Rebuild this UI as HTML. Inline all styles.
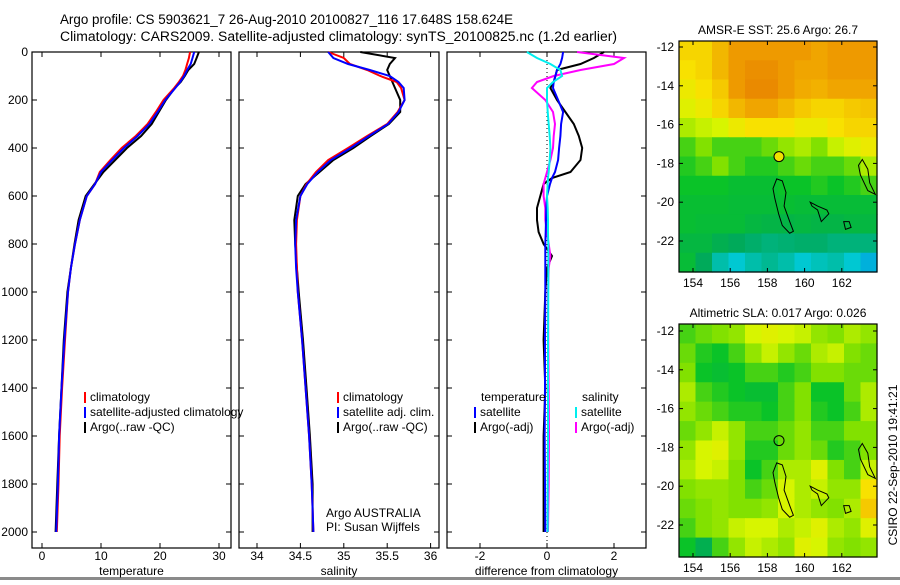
<!DOCTYPE html>
<html><head><meta charset="utf-8">
<style>
html,body{margin:0;padding:0;background:#fff;}
body{width:900px;height:580px;overflow:hidden;position:relative;font-family:"Liberation Sans",sans-serif;}
svg text{font-family:"Liberation Sans",sans-serif;font-size:12px;fill:#000;}
</style></head>
<body>
<svg id="fig" width="900" height="580" viewBox="0 0 900 580" xmlns="http://www.w3.org/2000/svg">
<text x="60" y="24" style="font-size:13.5px" textLength="453" lengthAdjust="spacingAndGlyphs">Argo profile: CS 5903621_7 26-Aug-2010 20100827_116 17.648S 158.624E</text>
<text x="60" y="41" style="font-size:13.5px" textLength="557" lengthAdjust="spacingAndGlyphs">Climatology: CARS2009. Satellite-adjusted climatology: synTS_20100825.nc (1.2d earlier)</text>
<rect x="0" y="577" width="900" height="3" fill="#8a8a8a"/>
</svg>
<script>
// ---------- data ----------
const depths = [0,25,50,75,100,125,150,200,250,300,350,400,450,500,550,600,700,800,900,1000,1200,1400,1600,1800,2000];
const tempClim = [25.1,24.9,24.6,24.3,23.9,23.2,22.4,20.6,19.3,17.9,15.9,13.5,11.6,9.8,9.0,7.6,6.4,5.6,4.9,4.4,3.9,3.4,3.0,2.8,2.5];
const tempSat  = [25.8,25.5,25.2,24.6,24.1,23.4,22.6,20.9,19.6,18.2,16.2,13.9,11.9,10.0,9.0,7.6,6.4,5.6,4.9,4.4,3.8,3.3,2.9,2.7,2.4];
const tempArgo = [26.6,26.2,25.8,24.8,24.2,23.5,22.5,21.0,19.8,18.6,16.8,14.4,12.4,10.4,8.9,7.4,6.2,5.5,4.9,4.3,3.7,3.3,2.9,2.6,2.3];
const salClim = [34.82,35.00,35.07,35.27,35.42,35.61,35.66,35.70,35.62,35.50,35.27,35.05,34.82,34.68,34.57,34.50,34.46,34.45,34.46,34.47,34.52,34.56,34.60,34.63,34.65];
const salSat  = [34.82,34.88,35.05,35.30,35.53,35.63,35.69,35.70,35.63,35.51,35.29,35.08,34.85,34.70,34.58,34.50,34.45,34.44,34.45,34.47,34.52,34.56,34.60,34.63,34.65];
const salArgo = [35.19,35.59,35.53,35.50,35.53,35.56,35.59,35.65,35.65,35.52,35.31,35.11,34.88,34.72,34.56,34.47,34.43,34.44,34.46,34.48,34.53,34.57,34.61,34.64,34.64];

const diffDepths = [0,25,50,75,100,125,150,200,250,300,350,400,450,500,525,550,600,650,700,750,800,850,900,1000,1200,1400,1600,1800,2000];
const dTempArgo = [1.7,1.4,1.0,0.3,0.25,0.2,0.1,0.3,0.55,0.8,0.95,1.05,1.0,0.7,0.15,-0.1,-0.2,-0.3,-0.3,-0.25,-0.1,0.15,0,-0.05,-0.1,-0.05,-0.1,-0.1,-0.1];
const dTempSat  = [0.48,0.45,0.4,0.3,0.25,0.2,0.18,0.33,0.48,0.42,0.4,0.36,0.33,0.24,0.15,0.09,0,-0.02,-0.03,-0.04,-0.05,-0.05,-0.05,-0.05,-0.06,-0.06,-0.07,-0.06,-0.05];
const dSalSat   = [-0.6,-0.3,0.1,0.4,0.45,0.18,0,0,0.02,0.05,0.08,0.1,0.08,0.05,0.03,0.02,0,0.02,0.03,0.03,0.04,0.04,0.04,0.04,0.03,0.03,0.03,0.02,0.02];
const dSalArgo  = [0.9,2.3,2.0,1.0,0.2,-0.3,-0.45,-0.05,0.18,0.24,0.2,0.18,0.1,0,-0.05,-0.1,-0.1,-0.05,-0.05,0,0.05,0.1,0.05,0.03,0.04,0.05,0.06,0.05,0.03];

const depthTicks = [0,200,400,600,800,1000,1200,1400,1600,1800,2000];
const tempTicks = [0,10,20,30];
const salTicks = [34,34.5,35,35.5,36];
const diffTicks = [-2,0,2];

const sstGrid = [
[.80,.80,.85,.90,.90,.90,.90,.90,.88,.90,.90,.90],
[.78,.80,.85,.90,.92,.92,.90,.88,.88,.90,.90,.90],
[.75,.78,.82,.90,.93,.93,.90,.87,.86,.88,.88,.88],
[.72,.75,.80,.85,.88,.88,.85,.82,.80,.80,.82,.83],
[.65,.68,.70,.75,.78,.78,.78,.75,.75,.78,.80,.80],
[.55,.60,.55,.55,.55,.58,.62,.65,.60,.68,.72,.75],
[.52,.55,.60,.55,.52,.52,.55,.58,.55,.55,.58,.65],
[.50,.50,.50,.48,.48,.48,.50,.50,.52,.50,.52,.55],
[.48,.48,.48,.47,.47,.47,.48,.47,.47,.47,.47,.47],
[.48,.47,.47,.47,.45,.44,.44,.45,.44,.44,.45,.45],
[.45,.45,.42,.40,.38,.36,.37,.38,.38,.36,.36,.36],
[.47,.40,.30,.25,.30,.33,.30,.25,.28,.30,.25,.20]];
const slaGrid = [
[.55,.58,.60,.62,.70,.72,.70,.68,.62,.60,.65,.62],
[.58,.52,.50,.55,.62,.68,.62,.58,.65,.68,.60,.58],
[.60,.50,.48,.50,.55,.55,.52,.55,.60,.60,.58,.58],
[.65,.55,.52,.50,.48,.48,.55,.60,.50,.50,.58,.65],
[.62,.58,.55,.52,.52,.50,.55,.60,.52,.50,.55,.65],
[.58,.62,.68,.62,.55,.55,.58,.62,.55,.55,.60,.60],
[.62,.70,.72,.62,.52,.52,.58,.62,.58,.52,.55,.60],
[.65,.70,.68,.60,.50,.55,.65,.65,.72,.60,.55,.68],
[.60,.62,.62,.60,.55,.58,.70,.65,.68,.62,.62,.78],
[.58,.60,.62,.60,.60,.62,.70,.65,.62,.60,.65,.82],
[.55,.60,.62,.68,.70,.70,.65,.68,.72,.65,.62,.72],
[.50,.42,.55,.62,.68,.65,.62,.72,.70,.62,.60,.62]];
const lonTicks = [154,156,158,160,162];
const latTicks = [-12,-14,-16,-18,-20,-22];
const argoLon = 158.624, argoLat = -17.648;
const reefA = [[158.5,-18.8],[158.8,-18.9],[159.0,-19.5],[158.9,-20.2],[159.2,-21.0],[159.4,-21.5],[159.2,-21.6],[158.8,-21.2],[158.6,-20.6],[158.4,-19.8],[158.3,-19.3]];
const reefB = [[160.3,-20.0],[160.7,-20.2],[161.2,-20.4],[161.3,-20.6],[160.9,-21.0],[160.7,-20.4],[160.4,-20.2]];
const reefC = [[163.1,-17.8],[163.4,-18.3],[163.5,-19.0],[163.8,-19.6],[163.4,-19.4],[163.0,-18.6],[162.9,-18.1]];
const reefD = [[162.1,-21.0],[162.4,-21.0],[162.5,-21.3],[162.2,-21.4]];
</script>
<script>
const NS = "http://www.w3.org/2000/svg";
const svg = document.getElementById('fig');
function mk(tag, attrs, parent){const e=document.createElementNS(NS,tag);for(const k in attrs)e.setAttribute(k,attrs[k]);(parent||svg).appendChild(e);return e;}
const Y0=52, YS=0.24;
function yD(d){return Y0+YS*d;}

function panel(name, x0, x1, xf, ticks, tickFmt, xlabel, showY){
  const g=mk('g',{});
  
  
  const fr=mk('rect',{x:x0,y:Y0,width:x1-x0,height:548-Y0,fill:'none',stroke:'#000','stroke-width':1.2},g);
  
  
  depthTicks.forEach(d=>{
    mk('line',{x1:x0,x2:x0+5,y1:yD(d),y2:yD(d),stroke:'#000'},g);
    mk('line',{x1:x1-5,x2:x1,y1:yD(d),y2:yD(d),stroke:'#000'},g);
    if(showY){const t=mk('text',{x:x0-4,y:yD(d)+4,'text-anchor':'end'},g);t.textContent=d;
      
      }
  });
  ticks.forEach(v=>{
    const x=xf(v);
    mk('line',{x1:x,x2:x,y1:548,y2:543,stroke:'#000'},g);
    mk('line',{x1:x,x2:x,y1:Y0,y2:Y0+5,stroke:'#000'},g);
    const t=mk('text',{x:x,y:560,'text-anchor':'middle'},g);t.textContent=tickFmt(v);
    
    
  });
  const xl=mk('text',{x:(x0+x1)/2,y:575,'text-anchor':'middle'},g);xl.textContent=xlabel;
  
  
  return g;
}
function line(g, xs, ds, xf, color, name, w){
  const pts=xs.map((v,i)=>xf(v).toFixed(1)+','+yD(ds[i]).toFixed(1)).join(' ');
  const p=mk('polyline',{points:pts,fill:'none',stroke:color,'stroke-width':w||2},g);
  
  
}
function legend(g, x, y, color, label, name){
  mk('rect',{x:x,y:y-9,width:2,height:11,fill:color},g);
  if(label){const t=mk('text',{x:x+6,y:y},g);t.textContent=label;}
  
  
}

const xT=v=>42+5.9*v;
const p1=panel('temperature-panel',32,231,xT,tempTicks,v=>v,'temperature',true);
line(p1,tempArgo,depths,xT,'#000','argo-temperature-line');
line(p1,tempClim,depths,xT,'#f00','climatology-temperature-line');
line(p1,tempSat,depths,xT,'#00f','satellite-temperature-line');
legend(p1,84,401,'#f00','climatology','legend-climatology');
legend(p1,84,416,'#00f','satellite-adjusted climatology','legend-satellite-adjusted');
legend(p1,84,431,'#000','Argo(..raw -QC)','legend-argo');

const xS=v=>257+86.8*(v-34);
const p2=panel('salinity-panel',239,439,xS,salTicks,v=>v,'salinity',false);
line(p2,salArgo,depths,xS,'#000','argo-salinity-line');
line(p2,salClim,depths,xS,'#f00','climatology-salinity-line');
line(p2,salSat,depths,xS,'#00f','satellite-salinity-line');
legend(p2,337,401,'#f00','climatology','legend-climatology-sal');
legend(p2,337,416,'#00f','satellite adj. clim.','legend-satellite-sal');
legend(p2,337,431,'#000','Argo(..raw -QC)','legend-argo-sal');
const a1=mk('text',{x:326,y:517},p2);a1.textContent='Argo AUSTRALIA';


const a2=mk('text',{x:326,y:531},p2);a2.textContent='PI: Susan Wijffels';



const xDf=v=>547+33.5*v;
const p3=panel('difference-panel',447,646,xDf,diffTicks,v=>v,'difference from climatology',false);
mk('line',{x1:xDf(0),x2:xDf(0),y1:Y0,y2:548,stroke:'#000','stroke-dasharray':'1,3'},p3);
line(p3,dTempArgo,diffDepths,xDf,'#000','argo-temperature-diff-line');
line(p3,dSalArgo,diffDepths,xDf,'#f0f','argo-salinity-diff-line');
line(p3,dTempSat,diffDepths,xDf,'#00f','satellite-temperature-diff-line');
line(p3,dSalSat,diffDepths,xDf,'#0ee','satellite-salinity-diff-line');
const h1=mk('text',{x:481,y:401},p3);h1.textContent='temperature';


const h2=mk('text',{x:582,y:401},p3);h2.textContent='salinity';


legend(p3,474,416,'#00f','satellite','legend-temp-satellite');
legend(p3,474,431,'#000','Argo(-adj)','legend-temp-argo');
legend(p3,575,416,'#0ee','satellite','legend-sal-satellite');
legend(p3,575,431,'#f0f','Argo(-adj)','legend-sal-argo');

const stops=[[0,[0,80,255]],[0.25,[0,200,210]],[0.4,[0,170,90]],[0.5,[10,195,40]],[0.6,[130,225,0]],[0.7,[215,245,0]],[0.78,[248,225,0]],[0.88,[240,165,0]],[1,[225,100,0]]];
function cmap(v){for(let i=1;i<stops.length;i++){if(v<=stops[i][0]){const a=stops[i-1],b=stops[i],t=(v-a[0])/(b[0]-a[0]);
 return 'rgb('+a[1].map((c,k)=>Math.round(c+(b[1][k]-c)*t)).join(',')+')';}}return 'rgb(225,100,0)';}

function drawMap(name, top, bottom, lat12y, title, grid, filledDot){
  const L=679,R=877, xL=v=>693+18.6*(v-154), yL=v=>lat12y+19.4*(-12-v);
  const g=mk('g',{});
  
  
  const rows=grid.length, cols=grid[0].length, cw=(R-L)/cols, ch=(bottom-top)/rows;
  grid.forEach((row,r)=>row.forEach((v,c)=>{
    const cell=mk('rect',{x:(L+c*cw).toFixed(2),y:(top+r*ch).toFixed(2),width:(cw+0.6).toFixed(2),height:(ch+0.6).toFixed(2),fill:cmap(v)},g);
    
    
  }));
  [reefA,reefB,reefC,reefD].forEach(rf=>{
    const p=mk('polygon',{points:rf.map(q=>xL(q[0]).toFixed(1)+','+yL(q[1]).toFixed(1)).join(' '),fill:'none',stroke:'#000','stroke-width':1},g);
    
    
  });
  const dot=mk('circle',{cx:xL(argoLon),cy:yL(argoLat),r:5,fill:filledDot?'#f0e000':'none',stroke:'#000','stroke-width':1},g);
  
  
  mk('rect',{x:L,y:top,width:R-L,height:bottom-top,fill:'none',stroke:'#000','stroke-width':1.2},g);
  lonTicks.forEach(v=>{const x=xL(v);mk('line',{x1:x,x2:x,y1:bottom,y2:bottom-4,stroke:'#000'},g);mk('line',{x1:x,x2:x,y1:top,y2:top+4,stroke:'#000'},g);
    const t=mk('text',{x:x,y:bottom+15,'text-anchor':'middle'},g);t.textContent=v;
    
    });
  latTicks.forEach(v=>{const y=yL(v);mk('line',{x1:L,x2:L+4,y1:y,y2:y,stroke:'#000'},g);mk('line',{x1:R-4,x2:R,y1:y,y2:y,stroke:'#000'},g);
    const t=mk('text',{x:L-5,y:y+4,'text-anchor':'end'},g);t.textContent=v;
    
    });
  const tt=mk('text',{x:(L+R)/2,y:top-7,'text-anchor':'middle'},g);tt.textContent=title;
  
  
}
drawMap('sst-map',41,272,47,'AMSR-E SST: 25.6 Argo: 26.7',sstGrid,true);
drawMap('sla-map',324,557,331,'Altimetric SLA: 0.017 Argo: 0.026',slaGrid,false);
const cs=mk('text',{x:0,y:0,transform:'translate(897,465) rotate(-90)','text-anchor':'middle'});
cs.textContent='CSIRO 22-Sep-2010 19:41:21';


</script>
</body></html>
